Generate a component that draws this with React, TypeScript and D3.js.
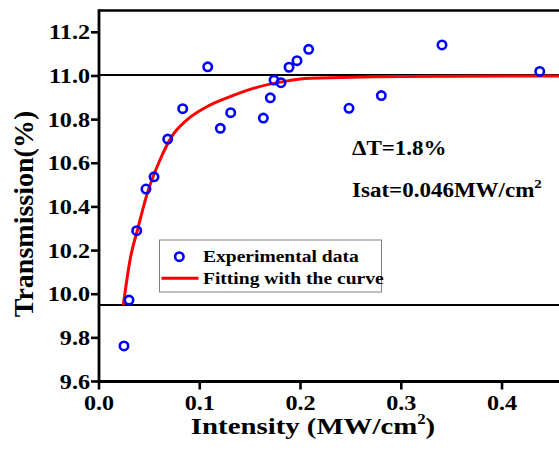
import React from "react";
import * as d3 from "d3";

const expX = [0.0248, 0.0298, 0.0374, 0.0466, 0.0546, 0.0682, 0.0831, 0.1079, 0.1204, 0.1307, 0.1631, 0.17, 0.1737, 0.1806, 0.1886, 0.1965, 0.2081, 0.2481, 0.2802, 0.3404, 0.4374];
const expY = [9.763, 9.973, 10.291, 10.482, 10.538, 10.711, 10.85, 11.042, 10.76, 10.832, 10.807, 10.9, 10.981, 10.969, 11.04, 11.07, 11.122, 10.852, 10.91, 11.142, 11.021];

const fitX = [0.0241, 0.0308, 0.039, 0.0479, 0.0605, 0.0721, 0.087, 0.1069, 0.13, 0.1532, 0.1829, 0.2094, 0.2988, 0.46];
const fitY = [9.95, 10.157, 10.309, 10.462, 10.615, 10.722, 10.798, 10.859, 10.905, 10.943, 10.974, 10.989, 10.998, 11.0];

const refLines = [11.005, 9.95];
const xTicks = [0, 0.1, 0.2, 0.3, 0.4];
const yTicks = [9.6, 9.8, 10.0, 10.2, 10.4, 10.6, 10.8, 11.0, 11.2];
const legendLabels = ["Experimental data", "Fitting with the curve"];

const FONT = "Liberation Serif, Times New Roman, serif";
const SX = 1.15;

function T({ x, y, size, anchor = "start", children, sx = SX }: any) {
  return (
    <text
      transform={`translate(${x},${y}) scale(${sx},1)`}
      style={{ fontFamily: FONT, fontWeight: 700, fontSize: size }}
      textAnchor={anchor}
      fill="#000"
    >
      {children}
    </text>
  );
}

export default function App() {
  const W = 559, H = 454;
  const x = d3.scaleLinear().domain([0, 0.46]).range([99, 562.5]);
  const y = d3.scaleLinear().domain([9.6, 11.3]).range([381.5, 10.5]);
  const line = d3
    .line<number>()
    .x((_, i) => x(fitX[i]))
    .y((d) => y(d))
    .curve(d3.curveMonotoneX);

  return (
    <svg width={W} height={H} style={{ position: "absolute", left: 0, top: 0 }}>
      <rect width={W} height={H} fill="#fff" />
      {refLines.map((v, i) => (
        <line key={i} x1={x(0)} x2={W + 10} y1={y(v)} y2={y(v)} stroke="#000" strokeWidth={2} />
      ))}
      <path d={line(fitY) || ""} fill="none" stroke="#ff0000" strokeWidth={3} />
      {expX.map((vx, i) => (
        <circle key={i} cx={x(vx)} cy={y(expY[i])} r={4.2} fill="none" stroke="#0000ff" strokeWidth={2.6} />
      ))}
      <line x1={x(0)} x2={W + 10} y1={y(11.3)} y2={y(11.3)} stroke="#000" strokeWidth={2.6} />
      <line x1={x(0)} x2={x(0)} y1={y(11.3) - 1.3} y2={y(9.6) + 1.3} stroke="#000" strokeWidth={2.8} />
      <line x1={x(0) - 1.4} x2={W + 10} y1={y(9.6)} y2={y(9.6)} stroke="#000" strokeWidth={2.8} />
      {yTicks.map((t) => (
        <g key={t}>
          <line x1={x(0) - 8} x2={x(0)} y1={y(t)} y2={y(t)} stroke="#000" strokeWidth={2.6} />
          <T x={90} y={y(t) + 7} size={21} anchor="end">{t.toFixed(1)}</T>
        </g>
      ))}
      {xTicks.map((t) => (
        <g key={t}>
          <line x1={x(t)} x2={x(t)} y1={y(9.6)} y2={y(9.6) + 8} stroke="#000" strokeWidth={2.6} />
          <T x={x(t)} y={410} size={21} anchor="middle">{t.toFixed(1)}</T>
        </g>
      ))}
      <text
        transform="translate(313,434) scale(1.2,1)"
        style={{ fontFamily: FONT, fontWeight: 700, fontSize: 24 }}
        textAnchor="middle"
      >
        Intensity (MW/cm<tspan dy={-10} style={{ fontSize: 14 }}>2</tspan><tspan dy={10}>)</tspan>
      </text>
      <text
        transform="translate(33,214) rotate(-90)"
        style={{ fontFamily: FONT, fontWeight: 700, fontSize: 28 }}
        textAnchor="middle"
      >
        Transmission(%)
      </text>
      <T x={352} y={155} size={20}>ΔT=1.8%</T>
      <T x={352} y={197} size={20}>
        Isat=0.046MW/cm<tspan dy={-9} style={{ fontSize: 13 }}>2</tspan>
      </T>
      <rect x={159.5} y={240} width={222} height={52} fill="#fff" stroke="#808080" strokeWidth={1} />
      <circle cx={179.3} cy={256.7} r={4.2} fill="none" stroke="#0000ff" strokeWidth={2.6} />
      <line x1={161.5} x2={198.5} y1={278.3} y2={278.3} stroke="#ff0000" strokeWidth={3} />
      <T x={203} y={262} size={17}>{legendLabels[0]}</T>
      <T x={203} y={284} size={17}>{legendLabels[1]}</T>
    </svg>
  );
}
